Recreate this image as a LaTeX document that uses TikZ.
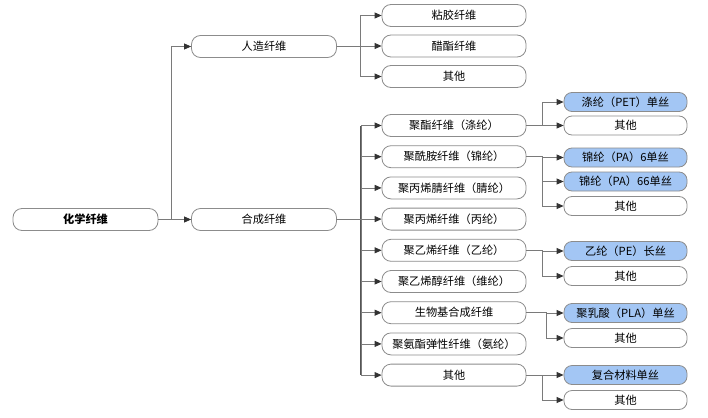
\documentclass[tikz,border=0pt]{standalone}
\usepackage{fontspec}
\setmainfont{Noto Sans CJK SC}
\usetikzlibrary{arrows.meta}

\definecolor{boxline}{HTML}{8C8C8C}
\definecolor{linegray}{HTML}{7A7A7A}
\definecolor{tipgray}{HTML}{333333}
\definecolor{hlblue}{HTML}{A3C6F4}

\begin{document}
\begin{tikzpicture}[x=1pt,y=-1pt,
  box/.style={draw=boxline,line width=0.8pt,fill=white,rounded corners=9pt,minimum width=144pt,minimum height=22pt,inner sep=0pt,font=\fontsize{11.2}{12}\selectfont},
  leaf/.style={box,minimum width=123pt,minimum height=19pt,rounded corners=8pt},
  hl/.style={fill=hlblue},
  link/.style={draw=linegray,line width=0.8pt,-{Triangle[length=7pt,width=6pt,color=tipgray]}},
  trunk/.style={draw=linegray!70!black,line width=1.4pt}]
\useasboundingbox (0,0) rectangle (708,417);

% root and first level
\node[box,minimum width=145pt,font=\fontsize{11.2}{12}\selectfont\bfseries] (root) at (85.5,219.5) {化学纤维};
\node[box,minimum width=145pt] (rz) at (264,46.5) {人造纤维};
\node[box,minimum width=145pt] (hc) at (264,219.5) {合成纤维};

% man-made fibres
\node[box] (nj) at (454,15.5) {粘胶纤维};
\node[box] (cs) at (454,46) {醋酯纤维};
\node[box] (rqt) at (454,76.5) {其他};

% synthetic fibres
\node[box] (dl) at (454,125.5) {聚酯纤维（涤纶）};
\node[box] (jl) at (454,156.7) {聚酰胺纤维（锦纶）};
\node[box] (jll) at (454,187.9) {聚丙烯腈纤维（腈纶）};
\node[box] (bl) at (454,219.1) {聚丙烯纤维（丙纶）};
\node[box] (yl) at (454,250.3) {聚乙烯纤维（乙纶）};
\node[box] (wl) at (454,281.5) {聚乙烯醇纤维（维纶）};
\node[box] (swj) at (454,312.7) {生物基合成纤维};
\node[box] (al) at (454,343.9) {聚氨酯弹性纤维（氨纶）};
\node[box] (hqt) at (454,375.1) {其他};

% monofilaments
\node[leaf,hl] (pet) at (625.5,102) {涤纶（PET）单丝};
\node[leaf] (petqt) at (625.5,125.5) {其他};
\node[leaf,hl] (pa6) at (625.5,157.5) {锦纶（PA）6单丝};
\node[leaf,hl] (pa66) at (625.5,181.5) {锦纶（PA）66单丝};
\node[leaf] (paqt) at (625.5,206) {其他};
\node[leaf,hl] (pe) at (625.5,251) {乙纶（PE）长丝};
\node[leaf] (peqt) at (625.5,276) {其他};
\node[leaf,hl] (pla) at (625.5,313) {聚乳酸（PLA）单丝};
\node[leaf] (plaqt) at (625.5,338) {其他};
\node[leaf,hl] (fh) at (625.5,375) {复合材料单丝};
\node[leaf] (fhqt) at (625.5,400) {其他};

% connectors
\draw[link] (root.east) -- ++(13,0) |- (rz.west);
\draw[link] (root.east) -- (hc.west);

\foreach \t in {nj,cs,rqt}
  \draw[link] (rz.east) -- ++(23.5,0) |- (\t.west);

\draw[trunk] (hc.east) -- ++(24,0) coordinate (hj);
\draw[trunk] (hj |- dl.west) -- (hj |- hqt.west);
\foreach \t in {dl,jl,jll,bl,yl,wl,swj,al,hqt}
  \draw[link] (hc.east) -- ++(24,0) |- (\t.west);

\foreach \s/\t in {dl/pet,dl/petqt,jl/pa6,jl/pa66,jl/paqt,yl/pe,yl/peqt,hqt/fh,hqt/fhqt}
  \draw[link] (\s.east) -- ++(15.5,0) |- (\t.west);
\foreach \t in {pla,plaqt}
  \draw[link] (swj.east) -- ++(20,0) |- (\t.west);
\end{tikzpicture}
\end{document}
